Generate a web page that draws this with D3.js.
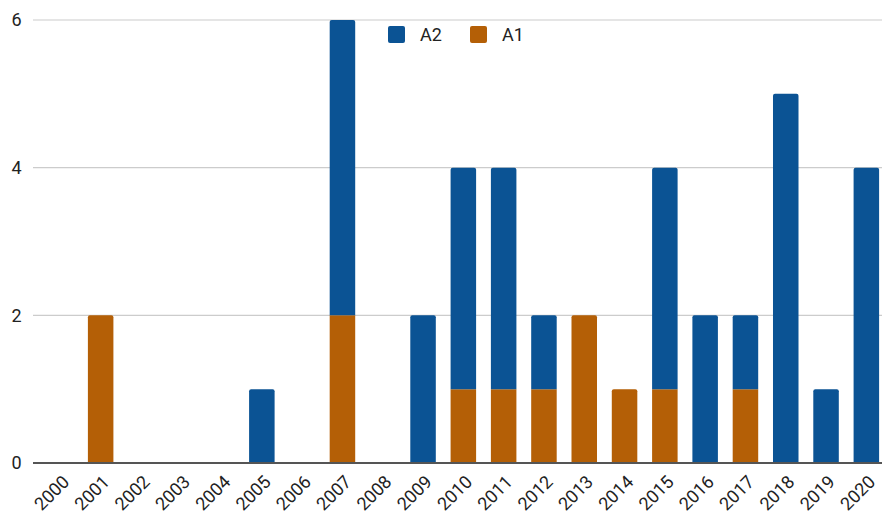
<!DOCTYPE html>
<html>
<head>
<meta charset="utf-8">
<script src="https://cdn.jsdelivr.net/npm/d3@7"></script>
<style>
  html, body { margin: 0; padding: 0; background: #fff; }
  svg { display: block; font-family: Roboto, Arial, sans-serif; }
</style>
</head>
<body>
<svg id="chart" width="882" height="516"></svg>
<script>
// Yearly counts, stacked A1 (bottom) + A2 (top)
const years = ["2000","2001","2002","2003","2004","2005","2006","2007","2008","2009","2010",
               "2011","2012","2013","2014","2015","2016","2017","2018","2019","2020"];
const a1Values = [0,2,0,0,0,0,0,2,0,0,1,1,1,2,1,1,0,1,0,0,0];
const a2Values = [0,0,0,0,0,1,0,4,0,2,3,3,1,0,0,3,2,1,5,1,4];
const yTicks = [0, 2, 4, 6];
const seriesNames = ["A1", "A2"];
const legendOrder = ["A2", "A1"];
const colors = { A1: "#b45f06", A2: "#0b5394" };

const svg = d3.select("#chart");
const W = 882;

const rows = years.map((y, i) => ({ year: y, A1: a1Values[i], A2: a2Values[i] }));
const stacked = d3.stack().keys(seriesNames)(rows);

const x = d3.scaleBand()
  .domain(years)
  .range([40.2, 40.2 + 21 * 40.3])
  .paddingInner(0.367)
  .paddingOuter(0.367 / 2);

const y = d3.scaleLinear().domain([0, 6]).range([463, 20]);

// gridlines
svg.append("g")
  .selectAll("line")
  .data(yTicks.filter(t => t !== 0))
  .join("line")
  .attr("x1", 33).attr("x2", W)
  .attr("y1", d => y(d)).attr("y2", d => y(d))
  .attr("stroke", "#cccccc").attr("stroke-width", 1.2);

// y tick labels
svg.append("g")
  .selectAll("text")
  .data(yTicks)
  .join("text")
  .attr("x", 21.5)
  .attr("y", d => y(d))
  .attr("dy", "0.36em")
  .attr("text-anchor", "end")
  .attr("font-size", 18)
  .attr("fill", "#222")
  .text(d => d);

// rounded-top rectangle path
function barPath(x0, y0, w, h, r) {
  r = Math.min(r, h / 2, w / 2);
  return `M${x0},${y0 + h}V${y0 + r}Q${x0},${y0} ${x0 + r},${y0}` +
         `H${x0 + w - r}Q${x0 + w},${y0} ${x0 + w},${y0 + r}V${y0 + h}Z`;
}

// bars
const totals = rows.map(r => r.A1 + r.A2);
stacked.forEach(layer => {
  svg.append("g")
    .selectAll("path")
    .data(layer.filter(d => d[1] > d[0]))
    .join("path")
    .attr("fill", colors[layer.key])
    .attr("d", d => {
      const top = y(d[1]), bot = y(d[0]);
      const isTop = d[1] === totals[years.indexOf(d.data.year)];
      return barPath(x(d.data.year), top, x.bandwidth(), bot - top, isTop ? 2 : 0);
    });
});

// baseline
svg.append("line")
  .attr("x1", 33).attr("x2", W)
  .attr("y1", y(0)).attr("y2", y(0))
  .attr("stroke", "#555").attr("stroke-width", 2);

// x tick labels, rotated
svg.append("g")
  .selectAll("text")
  .data(years)
  .join("text")
  .attr("transform", d => `translate(${x(d) + x.bandwidth() / 2 + 10},${483}) rotate(-45)`)
  .attr("text-anchor", "end")
  .attr("font-size", 18)
  .attr("fill", "#222")
  .text(d => d);

// legend
const legend = svg.append("g");
const legendX = { A2: 388, A1: 470 };
legendOrder.forEach(k => {
  legend.append("rect")
    .attr("x", legendX[k]).attr("y", 26)
    .attr("width", 17).attr("height", 17)
    .attr("rx", 2)
    .attr("fill", colors[k]);
  legend.append("text")
    .attr("x", legendX[k] + 32).attr("y", 34.5)
    .attr("dy", "0.36em")
    .attr("font-size", 18)
    .attr("fill", "#222")
    .text(k);
});
</script>
</body>
</html>
